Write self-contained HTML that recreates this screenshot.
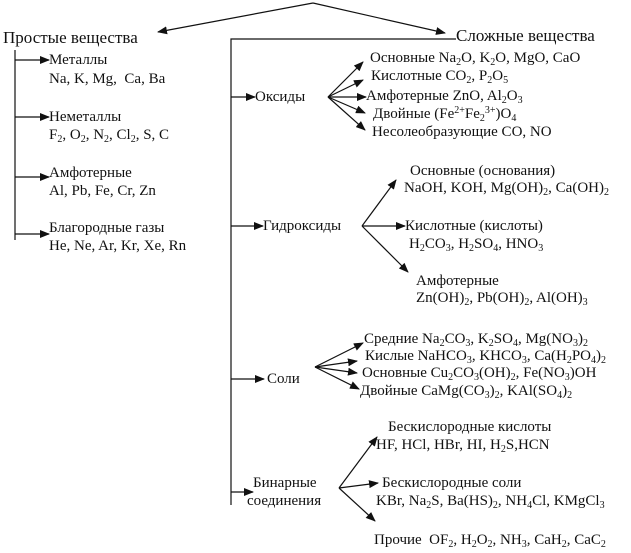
<!DOCTYPE html>
<html><head><meta charset="utf-8"><style>
html,body{margin:0;padding:0;background:#fff;}
body{width:631px;height:553px;position:relative;overflow:hidden;font-family:"Liberation Serif","DejaVu Serif","Times New Roman",serif;color:#111;}
.t{position:absolute;font-size:15px;line-height:20px;white-space:nowrap;font-family:"Liberation Serif","DejaVu Serif","Times New Roman",serif;}
.h{font-size:17px;}
sub{font-size:10px;vertical-align:-3px;line-height:0;}
sup{font-size:10px;vertical-align:5px;line-height:0;}
svg{position:absolute;left:0;top:0;}
</style></head><body>
<svg width="631" height="553">
<defs><marker id="a" markerWidth="10" markerHeight="8" refX="9" refY="4" orient="auto" markerUnits="userSpaceOnUse"><path d="M0,0 L10,4 L0,8 z" fill="#111"/></marker></defs>
<g stroke="#111" stroke-width="1.2" fill="none">
<line x1="313" y1="3" x2="158" y2="32" marker-end="url(#a)"/>
<line x1="313" y1="3" x2="445" y2="33" marker-end="url(#a)"/>
<polyline points="456,39 231,39 231,505"/>
<line x1="15" y1="50" x2="15" y2="240"/>
<line x1="15" y1="60" x2="49" y2="60" marker-end="url(#a)"/>
<line x1="15" y1="117" x2="49" y2="117" marker-end="url(#a)"/>
<line x1="15" y1="177" x2="49" y2="177" marker-end="url(#a)"/>
<line x1="15" y1="234" x2="49" y2="234" marker-end="url(#a)"/>
<line x1="231" y1="97" x2="255" y2="97" marker-end="url(#a)"/>
<line x1="231" y1="226" x2="263" y2="226" marker-end="url(#a)"/>
<line x1="231" y1="379" x2="264" y2="379" marker-end="url(#a)"/>
<line x1="231" y1="492" x2="253" y2="492" marker-end="url(#a)"/>
<line x1="328" y1="97" x2="363" y2="62" marker-end="url(#a)"/>
<line x1="328" y1="97" x2="363" y2="80" marker-end="url(#a)"/>
<line x1="328" y1="97" x2="366" y2="97" marker-end="url(#a)"/>
<line x1="328" y1="97" x2="365" y2="113" marker-end="url(#a)"/>
<line x1="328" y1="97" x2="365" y2="130" marker-end="url(#a)"/>
<line x1="362" y1="226" x2="396" y2="180" marker-end="url(#a)"/>
<line x1="362" y1="226" x2="405" y2="226" marker-end="url(#a)"/>
<line x1="362" y1="226" x2="408" y2="272" marker-end="url(#a)"/>
<line x1="315" y1="367" x2="363" y2="343" marker-end="url(#a)"/>
<line x1="315" y1="367" x2="357" y2="361" marker-end="url(#a)"/>
<line x1="315" y1="367" x2="357" y2="373" marker-end="url(#a)"/>
<line x1="315" y1="367" x2="359" y2="389" marker-end="url(#a)"/>
<line x1="339" y1="488" x2="377" y2="437" marker-end="url(#a)"/>
<line x1="339" y1="488" x2="378" y2="483" marker-end="url(#a)"/>
<line x1="339" y1="488" x2="375" y2="521" marker-end="url(#a)"/>
</g></svg>
<div class="t h" style="left:3px;top:28px">Простые вещества</div>
<div class="t h" style="left:456px;top:26px">Сложные вещества</div>
<div class="t" style="left:49px;top:50px">Металлы</div>
<div class="t" style="left:49px;top:69px">Na, K, Mg, &nbsp;Ca, Ba</div>
<div class="t" style="left:49px;top:107px">Неметаллы</div>
<div class="t" style="left:49px;top:125px">F<sub>2</sub>, O<sub>2</sub>, N<sub>2</sub>, Cl<sub>2</sub>, S, C</div>
<div class="t" style="left:49px;top:163px">Амфотерные</div>
<div class="t" style="left:49px;top:181px">Al, Pb, Fe, Cr, Zn</div>
<div class="t" style="left:49px;top:218px">Благородные газы</div>
<div class="t" style="left:49px;top:236px">He, Ne, Ar, Kr, Xe, Rn</div>
<div class="t" style="left:255px;top:87px">Оксиды</div>
<div class="t" style="left:370px;top:48px">Основные Na<sub>2</sub>O, K<sub>2</sub>O, MgO, CaO</div>
<div class="t" style="left:371px;top:66px">Кислотные CO<sub>2</sub>, P<sub>2</sub>O<sub>5</sub></div>
<div class="t" style="left:366px;top:86px">Амфотерные ZnO, Al<sub>2</sub>O<sub>3</sub></div>
<div class="t" style="left:373px;top:104px">Двойные (Fe<sup>2+</sup>Fe<sub>2</sub><sup>3+</sup>)O<sub>4</sub></div>
<div class="t" style="left:372px;top:122px">Несолеобразующие CO, NO</div>
<div class="t" style="left:263px;top:216px">Гидроксиды</div>
<div class="t" style="left:410px;top:161px">Основные (основания)</div>
<div class="t" style="left:404px;top:178px">NaOH, KOH, Mg(OH)<sub>2</sub>, Ca(OH)<sub>2</sub></div>
<div class="t" style="left:405px;top:216px">Кислотные (кислоты)</div>
<div class="t" style="left:409px;top:234px">H<sub>2</sub>CO<sub>3</sub>, H<sub>2</sub>SO<sub>4</sub>, HNO<sub>3</sub></div>
<div class="t" style="left:416px;top:271px">Амфотерные</div>
<div class="t" style="left:416px;top:288px">Zn(OH)<sub>2</sub>, Pb(OH)<sub>2</sub>, Al(OH)<sub>3</sub></div>
<div class="t" style="left:267px;top:369px">Соли</div>
<div class="t" style="left:364px;top:329px">Средние Na<sub>2</sub>CO<sub>3</sub>, K<sub>2</sub>SO<sub>4</sub>, Mg(NO<sub>3</sub>)<sub>2</sub></div>
<div class="t" style="left:365px;top:346px">Кислые NaHCO<sub>3</sub>, KHCO<sub>3</sub>, Ca(H<sub>2</sub>PO<sub>4</sub>)<sub>2</sub></div>
<div class="t" style="left:362px;top:363px">Основные Cu<sub>2</sub>CO<sub>3</sub>(OH)<sub>2</sub>, Fe(NO<sub>3</sub>)OH</div>
<div class="t" style="left:360px;top:381px">Двойные CaMg(CO<sub>3</sub>)<sub>2</sub>, KAl(SO<sub>4</sub>)<sub>2</sub></div>
<div class="t" style="left:253px;top:473px">Бинарные</div>
<div class="t" style="left:247px;top:491px">соединения</div>
<div class="t" style="left:388px;top:417px">Бескислородные кислоты</div>
<div class="t" style="left:376px;top:435px">HF, HCl, HBr, HI, H<sub>2</sub>S,HCN</div>
<div class="t" style="left:382px;top:473px">Бескислородные соли</div>
<div class="t" style="left:376px;top:491px">KBr, Na<sub>2</sub>S, Ba(HS)<sub>2</sub>, NH<sub>4</sub>Cl, KMgCl<sub>3</sub></div>
<div class="t" style="left:374px;top:530px">Прочие &nbsp;OF<sub>2</sub>, H<sub>2</sub>O<sub>2</sub>, NH<sub>3</sub>, CaH<sub>2</sub>, CaC<sub>2</sub></div>
</body></html>
